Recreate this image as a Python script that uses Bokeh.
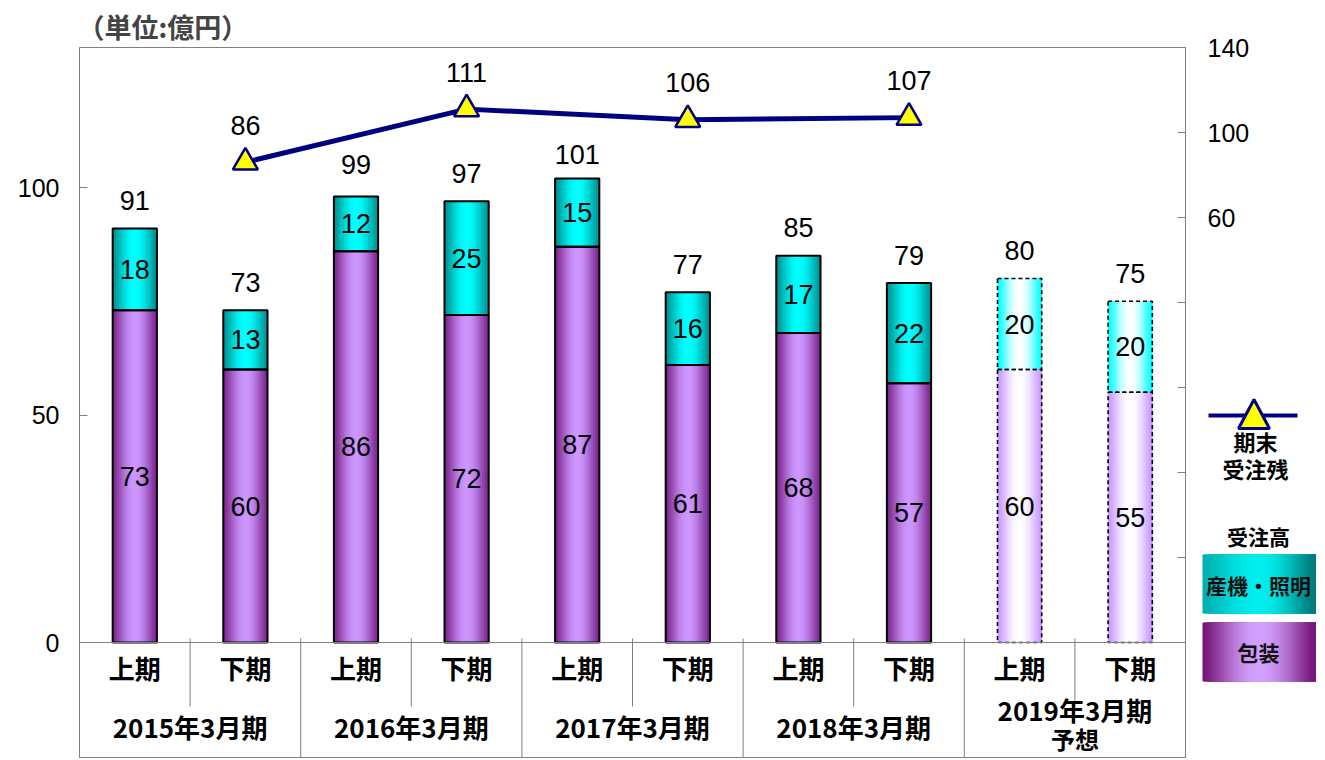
import math
from bokeh.plotting import figure
from bokeh.models import Range1d, LinearAxis, FixedTicker, ColumnDataSource, Span
from bokeh.core.properties import value
from bokeh.embed import file_html
from bokeh.resources import INLINE

# ---------------- data ----------------
halves = ["上期", "下期"] * 5
groups = ["2015年3月期", "2016年3月期", "2017年3月期", "2018年3月期", "2019年3月期"]
group_notes = ["", "", "", "", "予想"]
packaging = [73, 60, 86, 72, 87, 61, 68, 57, 60, 55]      # 包装
machinery = [18, 13, 12, 25, 15, 16, 17, 22, 20, 20]      # 産機・照明
totals = [91, 73, 99, 97, 101, 77, 85, 79, 80, 75]
is_forecast = [False] * 8 + [True] * 2
backlog_pos = [1, 3, 5, 7]                                # 期末受注残 (下期)
backlog = [86, 111, 106, 107]

# ---------------- layout constants ----------------
W, H = 1320, 758
JP = "Noto Sans CJK JP"
NUM = "Liberation Sans"
GRAY = "#808080"
NAVY = "#000080"

def X(px):   # picture px -> x data
    return (px - 79) / 110.6

def Y(py):   # picture px -> left y data
    return (642 - py) / 4.55

y_lo, y_hi = Y(H), Y(47)
p = figure(width=W, height=H, x_range=Range1d(0, 10), y_range=Range1d(y_lo, y_hi),
           output_backend="svg", toolbar_location=None, x_axis_location=None,
           min_border_left=79, min_border_right=W - 1185, min_border_top=47, min_border_bottom=0)
p.xgrid.visible = False
p.ygrid.visible = False
p.outline_line_color = GRAY
p.background_fill_color = "white"
p.border_fill_color = "white"

p.title.text = "（単位:億円）"
p.title.align = "left"
p.title.text_font = JP
p.title.text_font_style = "bold"
p.title.text_font_size = "27px"
p.title.standoff = 4
p.title.offset = -2

# left axis
ya = p.yaxis[0]
ya.ticker = FixedTicker(ticks=[0, 50, 100])
ya.major_tick_in = 8
ya.major_tick_out = 0
ya.minor_tick_line_color = None
ya.axis_line_color = GRAY
ya.major_tick_line_color = GRAY
ya.major_label_text_font = NUM
ya.major_label_text_font_size = "25px"
ya.major_label_text_color = "black"
ya.major_label_standoff = 20

# right axis (受注残)
p.extra_y_ranges = {"bl": Range1d(-140 - (H - 642) / 2.125, 140)}
rticks = [-140, -100, -60, -20, 20, 60, 100, 140]
ra = LinearAxis(y_range_name="bl", ticker=FixedTicker(ticks=rticks),
                major_label_overrides={t: "" for t in rticks if t < 60})
ra.major_tick_in = 8
ra.major_tick_out = 0
ra.minor_tick_line_color = None
ra.axis_line_color = GRAY
ra.major_tick_line_color = GRAY
ra.major_label_text_font = NUM
ra.major_label_text_font_size = "25px"
ra.major_label_text_color = "black"
ra.major_label_standoff = 22
p.add_layout(ra, "right")

# ---------------- gradient helpers ----------------
def mix(a, b, t):
    return "#%02x%02x%02x" % tuple(int(round(a[i] + (b[i] - a[i]) * t)) for i in range(3))

def profile(u):
    return math.sin(math.pi * min(max(u, 0), 1)) ** 1.3

PUR = ((122, 36, 138), (205, 150, 255))
TEA = ((0, 145, 145), (0, 255, 255))
PUR_F = ((200, 150, 255), (255, 255, 255))
TEA_F = ((0, 255, 255), (255, 255, 255))

centers = [i + 0.5 for i in range(10)]
hw = 0.2
N = 26
tops = [a + b for a, b in zip(packaging, machinery)]
for k in range(N):
    t = profile((k + 0.5) / N)
    left = [c - hw + k * 2 * hw / N for c in centers]
    right = [c + hw for c in centers]
    pc = [mix(*(PUR_F if f else PUR), t) for f in is_forecast]
    tc = [mix(*(TEA_F if f else TEA), t) for f in is_forecast]
    p.quad(left=left, right=right, bottom=[0] * 10, top=packaging, fill_color=pc, line_color=None)
    p.quad(left=left, right=right, bottom=packaging, top=tops, fill_color=tc, line_color=None)

act = [i for i in range(10) if not is_forecast[i]]
fc = [i for i in range(10) if is_forecast[i]]
for idx, dash, lw in ((act, "solid", 2), (fc, "4 3", 1.6)):
    src = ColumnDataSource(dict(
        l=[centers[i] - hw for i in idx], r=[centers[i] + hw for i in idx],
        b=[0 for i in idx], m=[packaging[i] for i in idx], t=[tops[i] for i in idx]))
    p.quad(left="l", right="r", bottom="b", top="m", source=src, fill_color=None,
           line_color="black", line_width=lw, line_dash=dash)
    p.quad(left="l", right="r", bottom="m", top="t", source=src, fill_color=None,
           line_color="black", line_width=lw, line_dash=dash)

# ---------------- bar labels ----------------
num_style = dict(text_align="center", text_baseline="middle", text_font=value(NUM),
                 text_font_size="27px", text_color="black")
p.text(x=centers, y=[v / 2 for v in packaging], text=[str(v) for v in packaging], **num_style)
p.text(x=centers, y=[a + b / 2 for a, b in zip(packaging, machinery)],
       text=[str(v) for v in machinery], **num_style)
p.text(x=centers, y=totals, text=[str(v) for v in totals], y_offset=-28, **num_style)

# ---------------- backlog line ----------------
bx = [centers[i] for i in backlog_pos]
p.line(x=bx, y=backlog, y_range_name="bl", line_color=NAVY, line_width=5)
p.scatter(x=bx, y=backlog, y_range_name="bl", marker="triangle", size=25,
          fill_color="#ffff00", line_color=NAVY, line_width=2.5)
p.text(x=bx, y=backlog, y_range_name="bl", text=[str(v) for v in backlog], y_offset=-37, **num_style)

# ---------------- category axis (drawn in frame below zero) ----------------
p.add_layout(Span(location=0, dimension="width", line_color=GRAY, line_width=1))
p.segment(x0=[1, 3, 5, 7, 9], y0=[Y(638)] * 5, x1=[1, 3, 5, 7, 9], y1=[Y(706)] * 5,
          line_color=GRAY, line_width=1)
p.segment(x0=[2, 4, 6, 8], y0=[Y(638)] * 4, x1=[2, 4, 6, 8], y1=[y_lo] * 4,
          line_color=GRAY, line_width=1)
jp_style = dict(text_align="center", text_baseline="middle", text_font=value(JP),
                text_font_style="bold", text_color="black")
p.text(x=centers, y=[Y(667)] * 10, text=halves, text_font_size="26px", **jp_style)
gy = [Y(709) if n else Y(726) for n in group_notes]
p.text(x=[1, 3, 5, 7, 9], y=gy, text=groups, text_font_size="26px", **jp_style)
note_x = [2 * i + 1 for i, n in enumerate(group_notes) if n]
note_t = [n for n in group_notes if n]
p.text(x=note_x, y=[Y(738)] * len(note_x), text=note_t, text_font_size="24px", **jp_style)

# ---------------- legend (outside the frame, overlay level) ----------------
def lab(x, y, text, size, color="black"):
    p.text(x=[x], y=[y], text=[text], text_align="center", text_baseline="middle",
           text_font=value(JP), text_font_style="bold", text_font_size=size,
           text_color=color, level="overlay")

p.line(x=[X(1208), X(1297)], y=[Y(415), Y(415)], line_color=NAVY, line_width=4, level="overlay")
p.patch(x=[X(1238), X(1253.5), X(1269)], y=[Y(428), Y(399), Y(428)],
        fill_color="#ffff00", line_color=NAVY, line_width=3, level="overlay")
lab(X(1255), Y(440), "期末", "22px")
lab(X(1255), Y(467), "受注残", "22px")
lab(X(1258), Y(535), "受注高", "21px")

def grad_box(l, r, t, b, edgeL, mid, edgeR, n=48):
    lefts, cols = [], []
    for k in range(n):
        u = (k + 0.5) / n
        c = mix(edgeL if u < 0.5 else edgeR, mid, profile(u))
        lefts.append(X(l + (r - l) * k / n))
        cols.append(c)
    p.quad(left=lefts, right=[X(r)] * n, top=[Y(t)] * n, bottom=[Y(b)] * n,
           fill_color=cols, line_color=None, level="overlay")

grad_box(1202, 1315, 554, 613, (0, 175, 175), (0, 238, 238), (0, 120, 120))
lab(X(1258), Y(584), "産機・照明", "21px", color="#111111")
grad_box(1202, 1315, 622, 681, (118, 18, 118), (210, 160, 255), (118, 18, 118))
lab(X(1258), Y(651), "包装", "21px", color="#111111")

open("out.html", "w").write(file_html(p, INLINE))
